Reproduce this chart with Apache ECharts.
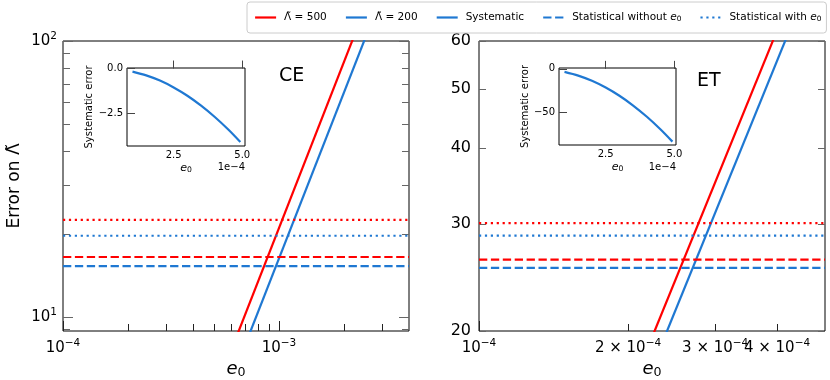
<!DOCTYPE html>
<html>
<head>
<meta charset="utf-8">
<script src="https://cdn.jsdelivr.net/npm/echarts@6/dist/echarts.min.js"></script>
<style>
  html, body { margin: 0; padding: 0; background: #fff; }
  #chart { width: 830px; height: 380px; }
</style>
</head>
<body>
<div id="chart"></div>
<script>
const red = '#ff0000';
const blue = '#1f78d2';
const font = 'DejaVu Sans';

// axis ranges
const ceXRange = [1e-4, 4e-3];
const ceYRange = [8.9, 100];
const etXRange = [1e-4, 5e-4];
const etYRange = [20, 60];

// systematic error, straight lines on log-log: [e0, error]
const ceSys500 = [[6.0e-4, 7.56], [2.4e-3, 121]];
const ceSys200 = [[7.0e-4, 7.99], [2.6e-3, 110]];
const etSys500 = [[2.2e-4, 18.9], [4.0e-4, 62.4]];
const etSys200 = [[2.3e-4, 18.4], [4.3e-4, 64.3]];

// statistical errors, [Λ=500, Λ=200]
const ceStatNoE0 = [16.5, 15.3];
const ceStatWithE0 = [22.5, 19.7];
const etStatNoE0 = [26.2, 25.4];
const etStatWithE0 = [30.1, 28.7];

// insets: systematic error vs e0 (in units of 1e-4)
const insetE0 = [1.0, 1.5, 2.0, 2.5, 3.0, 3.5, 4.0, 4.5, 4.93];
const ceInsetSys = [-0.17, -0.38, -0.67, -1.05, -1.51, -2.06, -2.69, -3.40, -4.08];
const etInsetSys = [-3.5, -7.8, -13.8, -21.6, -31.1, -42.4, -55.4, -70.1, -84.1];

// ticks
const ceXMajor = [1e-4, 1e-3];
const ceXMinor = [2e-4, 3e-4, 4e-4, 5e-4, 6e-4, 7e-4, 8e-4, 9e-4, 2e-3, 3e-3];
const ceYMajor = [10, 100];
const ceYMinor = [9, 20, 30, 40, 50, 60, 70, 80, 90];
const etXMajor = [1e-4];
const etXMinor = [2e-4, 3e-4, 4e-4];
const etXLabelsA = [1e-4, 2e-4, 4e-4];
const etXLabelsB = [3e-4];
const etYTicks = [20, 30, 40, 50, 60];
const ceInsetXTicks = [2.5, 5.0];
const ceInsetYTicks = [0, -2.5];
const etInsetXTicks = [2.5, 5.0];
const etInsetYTicks = [0, -50];

const supRich = {
  sup: { fontSize: 10.5, fontFamily: font, color: '#000', padding: [0, 0, 9, 0] }
};
const subRich = (size) => ({
  e: { fontStyle: 'italic', fontSize: size, fontFamily: font, color: '#000' },
  s: { fontSize: size * 0.7, fontFamily: font, color: '#000', padding: [size * 0.35, 0, 0, 0] }
});

function sci(v) {
  const exp = Math.floor(Math.log10(v) + 1e-9);
  const m = Math.round(v / Math.pow(10, exp));
  const pow = '10{sup|' + (exp < 0 ? '−' + (-exp) : exp) + '}';
  return m === 1 ? pow : m + ' × ' + pow;
}
const minus = (s) => s.replace('-', '−');

function logAx(grid, range, pos, opts) {
  return Object.assign({
    type: 'log', logBase: 10, gridIndex: grid, position: pos, min: range[0], max: range[1],
    axisLine: { show: false }, splitLine: { show: false }
  }, opts);
}
function tickOnly(vals, len, color) {
  return { inside: true, length: len, customValues: vals, lineStyle: { color: color, width: 1 } };
}
const noLabel = { show: false };
const mainLabel = (vals, size, margin) => ({
  customValues: vals, formatter: sci, color: '#000', fontSize: size, fontFamily: font, rich: supRich,
  margin: margin, hideOverlap: false, showMinLabel: true, showMaxLabel: true
});
const e0Name = { name: '{e|e}{s|0}', nameLocation: 'middle', nameGap: 26, nameTextStyle: { rich: subRich(18) } };

const xAxes = [
  logAx(0, ceXRange, 'bottom', Object.assign({
    axisTick: tickOnly(ceXMajor, 10, '#222'), axisLabel: mainLabel(ceXMajor, 15, 7)
  }, e0Name)),
  logAx(0, ceXRange, 'bottom', { axisTick: tickOnly(ceXMinor, 7, '#222'), axisLabel: noLabel }),
  logAx(1, etXRange, 'bottom', Object.assign({
    axisTick: tickOnly(etXMajor, 10, '#222'), axisLabel: mainLabel(etXLabelsA, 15, 7)
  }, e0Name)),
  logAx(1, etXRange, 'bottom', { axisTick: tickOnly(etXMinor, 7, '#222'), axisLabel: mainLabel(etXLabelsB, 15, 7) })
];

const yAxes = [
  logAx(0, ceYRange, 'left', {
    axisTick: tickOnly(ceYMajor, 10, '#666'), axisLabel: mainLabel(ceYMajor, 15, 6),
    name: 'Error on Λ̃', nameLocation: 'middle', nameGap: 40,
    nameTextStyle: { fontSize: 17, fontFamily: font, color: '#000' }
  }),
  logAx(0, ceYRange, 'left', { axisTick: tickOnly(ceYMinor, 7, '#666'), axisLabel: noLabel }),
  logAx(0, ceYRange, 'right', { axisTick: tickOnly(ceYMajor, 10, '#666'), axisLabel: noLabel }),
  logAx(0, ceYRange, 'right', { axisTick: tickOnly(ceYMinor, 7, '#666'), axisLabel: noLabel }),
  logAx(1, etYRange, 'left', {
    axisTick: tickOnly(etYTicks, 7, '#666'),
    axisLabel: { customValues: etYTicks, color: '#000', fontSize: 16, fontFamily: font, margin: 8,
      hideOverlap: false, showMinLabel: true, showMaxLabel: true }
  }),
  logAx(1, etYRange, 'right', { axisTick: tickOnly(etYTicks, 7, '#666'), axisLabel: noLabel })
];

function insetAxes(grid, xr, yr, xt, yt, yfmt) {
  const lbl = { color: '#000', fontSize: 10, fontFamily: font, margin: 4, hideOverlap: false,
    showMinLabel: true, showMaxLabel: true };
  xAxes.push({
    type: 'value', gridIndex: grid, position: 'bottom', min: xr[0], max: xr[1],
    axisLine: { show: false }, splitLine: { show: false },
    axisTick: tickOnly(xt, 8, '#444'),
    axisLabel: Object.assign({ customValues: xt, formatter: (v) => v.toFixed(1) }, lbl),
    name: '{e|e}{s|0}', nameLocation: 'middle', nameGap: 16,
    nameTextStyle: { rich: subRich(11) }
  });
  yAxes.push({
    type: 'value', gridIndex: grid, position: 'left', min: yr[0], max: yr[1],
    axisLine: { show: false }, splitLine: { show: false },
    axisTick: tickOnly(yt, 8, '#444'),
    axisLabel: Object.assign({ customValues: yt, formatter: yfmt }, lbl),
    name: 'Systematic error', nameLocation: 'middle', nameGap: 28,
    nameTextStyle: { fontSize: 10, fontFamily: font, color: '#000' }
  });
}
insetAxes(2, [0.8, 5.1], [-4.3, 0.03], ceInsetXTicks, ceInsetYTicks, (v) => minus(v.toFixed(1)));
insetAxes(3, [0.8, 5.06], [-88, 1], etInsetXTicks, etInsetYTicks, (v) => minus(String(v)));

function line(name, data, color, type, xi, yi) {
  return {
    type: 'line', name: name, data: data, xAxisIndex: xi, yAxisIndex: yi,
    showSymbol: false, symbol: 'none', silent: true, clip: true,
    lineStyle: { color: color, width: 2.2, type: type, cap: 'butt' },
    itemStyle: { color: color }
  };
}
const flat = (v, range) => [[range[0], v], [range[1], v]];
const dashed = [8.3, 3.6];
const dotted = [2.2, 3.7];

const series = [
  line('Λ̃ = 500', ceSys500, red, 'solid', 0, 0),
  line('Λ̃ = 200', ceSys200, blue, 'solid', 0, 0),
  line('ce-n500', flat(ceStatNoE0[0], ceXRange), red, dashed, 0, 0),
  line('ce-n200', flat(ceStatNoE0[1], ceXRange), blue, dashed, 0, 0),
  line('ce-w500', flat(ceStatWithE0[0], ceXRange), red, dotted, 0, 0),
  line('ce-w200', flat(ceStatWithE0[1], ceXRange), blue, dotted, 0, 0),
  line('et-s500', etSys500, red, 'solid', 2, 4),
  line('et-s200', etSys200, blue, 'solid', 2, 4),
  line('et-n500', flat(etStatNoE0[0], etXRange), red, dashed, 2, 4),
  line('et-n200', flat(etStatNoE0[1], etXRange), blue, dashed, 2, 4),
  line('et-w500', flat(etStatWithE0[0], etXRange), red, dotted, 2, 4),
  line('et-w200', flat(etStatWithE0[1], etXRange), blue, dotted, 2, 4),
  line('Systematic', [], blue, 'solid', 0, 0),
  line('Statistical without e0', [], blue, dashed, 0, 0),
  line('Statistical with e0', [], blue, dotted, 0, 0),
  Object.assign(line('ce-inset', insetE0.map((x, i) => [x, ceInsetSys[i]]), blue, 'solid', 4, 6), { smooth: 0.3 }),
  Object.assign(line('et-inset', insetE0.map((x, i) => [x, etInsetSys[i]]), blue, 'solid', 5, 7), { smooth: 0.3 })
];

const legendNames = ['Λ̃ = 500', 'Λ̃ = 200', 'Systematic', 'Statistical without e0', 'Statistical with e0'];
const legendColors = [red, blue, blue, blue, blue];
const legendDash = ['solid', 'solid', 'solid', dashed, dotted];

const frame = { show: true, borderColor: '#000', borderWidth: 1, backgroundColor: 'transparent',
  outerBoundsMode: 'none', containLabel: false };

const chart = echarts.init(document.getElementById('chart'));
chart.setOption({
  animation: false,
  backgroundColor: '#fff',
  textStyle: { fontFamily: font },
  grid: [
    Object.assign({ left: 63, top: 41, width: 346, height: 290 }, frame),
    Object.assign({ left: 479, top: 41, width: 346, height: 290 }, frame),
    Object.assign({}, frame, { left: 127, top: 68, width: 118, height: 78, backgroundColor: '#fff' }),
    Object.assign({}, frame, { left: 559, top: 68, width: 117, height: 77, backgroundColor: '#fff' })
  ],
  xAxis: xAxes,
  yAxis: yAxes,
  legend: {
    left: 247, top: 2, width: 580,
    padding: [10, 5, 10, 7],
    itemWidth: 21, itemHeight: 10, itemGap: 18,
    backgroundColor: '#fff', borderColor: '#ccc', borderWidth: 1, borderRadius: 3,
    selectedMode: false,
    data: legendNames.map((n, i) => ({
      name: n,
      itemStyle: { opacity: 0 },
      lineStyle: { color: legendColors[i], type: legendDash[i], width: 2.2, opacity: 1 }
    })),
    formatter: (n) => n.replace(' e0', ' {e|e}{s|0}'),
    textStyle: { fontSize: 10.5, fontFamily: font, color: '#000', padding: [0, 0, 0, 3], rich: subRich(10.5) }
  },
  graphic: [
    { type: 'text', left: 279, top: 67, style: { text: 'CE', fontSize: 19, fontFamily: font, fill: '#000' } },
    { type: 'text', left: 697, top: 72, style: { text: 'ET', fontSize: 19, fontFamily: font, fill: '#000' } },
    { type: 'text', right: 830 - 245, top: 162, style: { text: '1e−4', fontSize: 10, fontFamily: font, fill: '#000' } },
    { type: 'text', right: 830 - 676, top: 162, style: { text: '1e−4', fontSize: 10, fontFamily: font, fill: '#000' } }
  ],
  series: series
});
</script>
</body>
</html>
